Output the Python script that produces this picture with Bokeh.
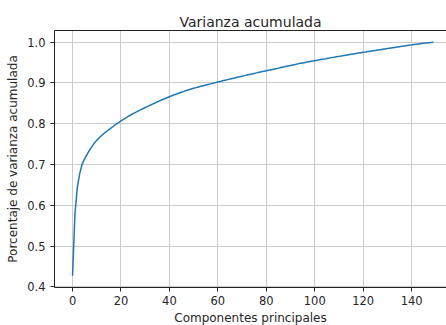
from bokeh.plotting import figure
from bokeh.models import Range1d, LinearAxis, FixedTicker, CustomJSTickFormatter
from bokeh.embed import file_html
from bokeh.resources import INLINE

title = "Varianza acumulada"
x_label = "Componentes principales"
y_label = "Porcentaje de varianza acumulada"
x_ticks = [0, 20, 40, 60, 80, 100, 120, 140]
y_ticks = [0.4, 0.5, 0.6, 0.7, 0.8, 0.9, 1.0]

varianza = [
    0.4270, 0.5800, 0.6450, 0.6790, 0.7020, 0.7140, 0.7250, 0.7350, 0.7440, 0.7525,
    0.7595, 0.7655, 0.7710, 0.7762, 0.7810, 0.7855, 0.7900, 0.7945, 0.7988, 0.8030,
    0.8070, 0.8108, 0.8145, 0.8180, 0.8214, 0.8246, 0.8278, 0.8308, 0.8338, 0.8368,
    0.8397, 0.8426, 0.8454, 0.8482, 0.8509, 0.8536, 0.8562, 0.8588, 0.8613, 0.8638,
    0.8662, 0.8686, 0.8709, 0.8731, 0.8753, 0.8774, 0.8794, 0.8813, 0.8832, 0.8850,
    0.8868, 0.8885, 0.8901, 0.8917, 0.8933, 0.8948, 0.8963, 0.8978, 0.8993, 0.9008,
    0.9023, 0.9038, 0.9053, 0.9068, 0.9082, 0.9096, 0.9110, 0.9124, 0.9138, 0.9152,
    0.9166, 0.9180, 0.9194, 0.9208, 0.9221, 0.9234, 0.9247, 0.9260, 0.9273, 0.9286,
    0.9299, 0.9312, 0.9325, 0.9338, 0.9351, 0.9364, 0.9377, 0.9390, 0.9403, 0.9416,
    0.9429, 0.9442, 0.9455, 0.9468, 0.9481, 0.9492, 0.9503, 0.9514, 0.9525, 0.9536,
    0.9547, 0.9558, 0.9568, 0.9579, 0.9589, 0.9600, 0.9610, 0.9621, 0.9631, 0.9642,
    0.9652, 0.9662, 0.9672, 0.9682, 0.9692, 0.9702, 0.9712, 0.9722, 0.9732, 0.9742,
    0.9752, 0.9761, 0.9771, 0.9780, 0.9789, 0.9798, 0.9808, 0.9817, 0.9826, 0.9835,
    0.9844, 0.9853, 0.9862, 0.9871, 0.9880, 0.9889, 0.9898, 0.9907, 0.9916, 0.9925,
    0.9934, 0.9942, 0.9950, 0.9958, 0.9966, 0.9974, 0.9981, 0.9988, 0.9994, 1.0000,
]
componentes = list(range(len(varianza)))

FONT = "DejaVu Sans"
TXT = "#262626"

n = len(varianza)
xspan = (n - 1)
x0 = -0.05 * xspan
x_full_end = (n - 1) + 0.05 * xspan
ymin, ymax = min(varianza), max(varianza)
yspan = ymax - ymin
# frame covers 392px of the full 397px matplotlib axes width (right edge cut off)
x_end = x0 + (x_full_end - x0) * 392.0 / 397.0

p = figure(
    output_backend="svg", toolbar_location=None,
    frame_width=392, frame_height=257,
    min_border_left=54, min_border_right=0, min_border_top=30, min_border_bottom=38,
    x_range=Range1d(x0, x_end), y_range=Range1d(ymin - 0.05 * yspan, ymax + 0.05 * yspan),
)
p.outline_line_color = None
p.background_fill_color = "white"
p.border_fill_color = "white"

p.line(componentes, varianza, line_color="#1f77b4", line_width=1.5)

p.title.text = title
p.title.align = "center"
p.title.text_font = FONT
p.title.text_font_size = "14px"
p.title.text_font_style = "normal"
p.title.text_color = TXT
p.title.standoff = 2
p.title.offset = 2

for ax in (p.xaxis[0], p.yaxis[0]):
    ax.axis_line_color = "#222222"
    ax.axis_line_width = 1
    ax.major_tick_line_color = "#222222"
    ax.major_tick_out = 4
    ax.major_tick_in = 0
    ax.minor_tick_line_color = None
    ax.major_label_text_font = FONT
    ax.major_label_text_font_size = "11.5px"
    ax.major_label_text_color = TXT
    ax.axis_label_text_font = FONT
    ax.axis_label_text_font_size = "12px"
    ax.axis_label_text_font_style = "normal"
    ax.axis_label_text_color = TXT
    ax.major_label_standoff = 4
    ax.axis_label_standoff = 3

p.xaxis[0].ticker = FixedTicker(ticks=x_ticks)
p.yaxis[0].ticker = FixedTicker(ticks=y_ticks)
p.yaxis[0].formatter = CustomJSTickFormatter(code="return tick.toFixed(1);")
p.xaxis[0].axis_label = x_label
p.yaxis[0].axis_label = y_label
p.yaxis[0].major_label_standoff = 5
p.yaxis[0].axis_label_standoff = 4

top = LinearAxis(ticker=FixedTicker(ticks=[]), axis_line_color="#222222",
                 major_tick_line_color=None, minor_tick_line_color=None,
                 major_label_text_font_size="0px", major_label_standoff=0,
                 major_tick_out=0, minor_tick_out=0)
p.add_layout(top, "above")

p.xgrid.ticker = FixedTicker(ticks=x_ticks)
p.ygrid.ticker = FixedTicker(ticks=y_ticks)
p.grid.grid_line_color = "#cccccc"
p.grid.grid_line_width = 1

open("out.html", "w").write(file_html(p, INLINE))
